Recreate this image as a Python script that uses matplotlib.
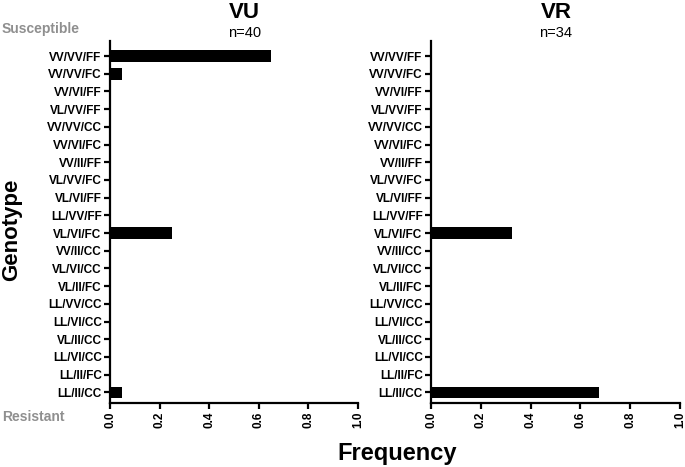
import matplotlib
matplotlib.use("Agg")
import matplotlib.pyplot as plt

plt.rcParams['font.family'] = ['Liberation Sans', 'DejaVu Sans']

genotypes = ["VV/VV/FF", "VV/VV/FC", "VV/VI/FF", "VL/VV/FF", "VV/VV/CC",
             "VV/VI/FC", "VV/II/FF", "VL/VV/FC", "VL/VI/FF", "LL/VV/FF",
             "VL/VI/FC", "VV/II/CC", "VL/VI/CC", "VL/II/FC", "LL/VV/CC",
             "LL/VI/CC", "VL/II/CC", "LL/VI/CC", "LL/II/FC", "LL/II/CC"]
vu_freq = [0.65, 0.05, 0, 0, 0, 0, 0, 0, 0, 0,
           0.25, 0, 0, 0, 0, 0, 0, 0, 0, 0.05]
vr_freq = [0, 0, 0, 0, 0, 0, 0, 0, 0, 0,
           0.3235, 0, 0, 0, 0, 0, 0, 0, 0, 0.6765]
xticks = [0.0, 0.2, 0.4, 0.6, 0.8, 1.0]
xtick_labels = ["0.0", "0.2", "0.4", "0.6", "0.8", "1.0"]

W, H = 685, 467
fig = plt.figure(figsize=(W / 100, H / 100), dpi=100)

def px_axes(x0, x1, ytop, ybot):
    return fig.add_axes([x0 / W, 1 - ybot / H, (x1 - x0) / W, (ybot - ytop) / H])

ax1 = px_axes(110, 358, 41, 403)
ax2 = px_axes(431, 680, 41, 403)

for ax, vals in [(ax1, vu_freq), (ax2, vr_freq)]:
    ypos = list(range(len(genotypes)))
    ax.barh(ypos, vals, height=0.66, color="black", left=0)
    ax.set_ylim(19.6, -0.85)
    ax.set_xlim(0, 1.0)
    ax.set_yticks(ypos)
    ax.set_yticklabels(genotypes, fontsize=8.5, fontweight="bold")
    ax.set_xticks(xticks)
    ax.set_xticklabels(xtick_labels, fontsize=8.5, fontweight="bold", rotation=90)
    for s in ["top", "right"]:
        ax.spines[s].set_visible(False)
    for s in ["left", "bottom"]:
        ax.spines[s].set_linewidth(1.6)
    ax.tick_params(axis="both", width=1.6, length=4.5, pad=1.5, color="black")

fig.text(244 / W, 1 - 18 / H, "VU", fontsize=16, fontweight="bold", ha="center", va="baseline")
fig.text(245 / W, 1 - 37 / H, "n=40", fontsize=10.5, ha="center", va="baseline")
fig.text(556 / W, 1 - 18 / H, "VR", fontsize=16, fontweight="bold", ha="center", va="baseline")
fig.text(556 / W, 1 - 37 / H, "n=34", fontsize=10.5, ha="center", va="baseline")

fig.text(2 / W, 1 - 33 / H, "Susceptible", fontsize=10, fontweight="bold", color="#8f8f8f",
         ha="left", va="baseline")
fig.text(2 / W, 1 - 421 / H, "Resistant", fontsize=10, fontweight="bold", color="#8f8f8f",
         ha="left", va="baseline")

fig.text(11.5 / W, 1 - 230 / H, "Genotype", fontsize=16, fontweight="bold", rotation=90,
         ha="center", va="center")
fig.text(397 / W, 1 - 460 / H, "Frequency", fontsize=17, fontweight="bold",
         ha="center", va="baseline")

fig.savefig("out.png", dpi=100)
